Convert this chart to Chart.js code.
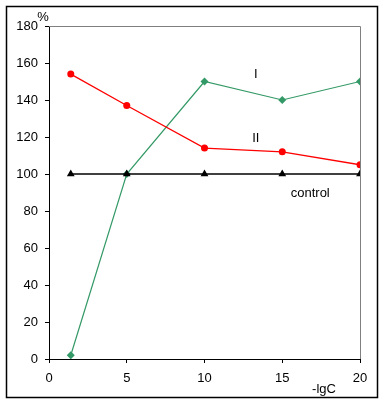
<!DOCTYPE html>
<html><head><meta charset="utf-8">
<script src="https://cdn.jsdelivr.net/npm/chart.js@4"></script>
<style>html,body{margin:0;padding:0;background:#fff;}#wrap{width:385px;height:406px;position:relative;}</style>
</head><body><div id="wrap"><canvas id="c" width="385" height="406"></canvas></div>
<script>
const xValues = [1.4, 5, 10, 15, 20];
const seriesI = [2, 100, 150, 140, 150];
const seriesII = [154, 137, 114, 112, 105];
const control = [100, 100, 100, 100, 100];
const xTicks = [0, 5, 10, 15, 20];
const yTicks = [0, 20, 40, 60, 80, 100, 120, 140, 160, 180];

const pts = arr => arr.map((v, i) => ({x: xValues[i], y: v}));
const FONT = 'Liberation Sans, Arial, sans-serif';

const decor = {
  id: 'decor',
  beforeDatasetsDraw(chart) {
    const {ctx, chartArea: a} = chart;
    ctx.save();
    ctx.strokeStyle = '#808080';
    ctx.lineWidth = 1;
    ctx.beginPath();
    ctx.moveTo(a.left, Math.round(a.top) + 0.5);
    ctx.lineTo(Math.round(a.right) + 0.5, Math.round(a.top) + 0.5);
    ctx.lineTo(Math.round(a.right) + 0.5, a.bottom);
    ctx.stroke();
    ctx.restore();
  },
  afterDraw(chart) {
    const {ctx} = chart;
    const xs = chart.scales.x, ys = chart.scales.y;
    ctx.save();
    ctx.strokeStyle = '#000';
    ctx.lineWidth = 1.5;
    ctx.strokeRect(6.5, 6.5, 371, 391);
    ctx.fillStyle = '#000';
    ctx.font = '13px ' + FONT;
    ctx.textAlign = 'center';
    ctx.textBaseline = 'middle';
    ctx.fillText('I', xs.getPixelForValue(13.3), ys.getPixelForValue(154));
    ctx.fillText('II', xs.getPixelForValue(13.3), ys.getPixelForValue(119));
    ctx.fillText('control', xs.getPixelForValue(16.8), ys.getPixelForValue(89.5));
    ctx.fillText('%', 43, 17);
    ctx.fillText('-lgC', 324, 389);
    ctx.restore();
  }
};

new Chart(document.getElementById('c'), {
  type: 'scatter',
  data: {
    datasets: [
      {label: 'control', data: pts(control), showLine: true, borderColor: '#000', backgroundColor: '#000',
       borderWidth: 1.6, pointStyle: 'triangle', pointRadius: 4.5, pointBorderWidth: 0},
      {label: 'II', data: pts(seriesII), showLine: true, borderColor: '#ff0000', backgroundColor: '#ff0000',
       borderWidth: 1.3, pointStyle: 'circle', pointRadius: 3.5, pointBorderWidth: 0},
      {label: 'I', data: pts(seriesI), showLine: true, borderColor: '#339966', backgroundColor: '#339966',
       borderWidth: 1.2, pointStyle: 'rectRot', pointRadius: 4, pointBorderWidth: 0}
    ]
  },
  options: {
    responsive: false,
    animation: false,
    layout: {padding: {left: 9, right: 25, top: 26, bottom: 17}},
    plugins: {legend: {display: false}, tooltip: {enabled: false}},
    scales: {
      x: {
        type: 'linear', min: 0, max: 20,
        afterBuildTicks: s => { s.ticks = xTicks.map(v => ({value: v})); },
        afterFit: s => { s.height = 30; },
        grid: {drawOnChartArea: false, drawTicks: true, tickLength: 4, color: '#000'},
        border: {color: '#000', width: 1},
        ticks: {color: '#000', font: {family: FONT, size: 13}, padding: 8, maxRotation: 0}
      },
      y: {
        type: 'linear', min: 0, max: 180,
        afterBuildTicks: s => { s.ticks = yTicks.map(v => ({value: v})); },
        afterFit: s => { s.width = 40; },
        grid: {drawOnChartArea: false, drawTicks: true, tickLength: 4, color: '#000'},
        border: {color: '#000', width: 1},
        ticks: {color: '#000', font: {family: FONT, size: 13}, padding: 7}
      }
    }
  },
  plugins: [decor]
});
</script></body></html>
